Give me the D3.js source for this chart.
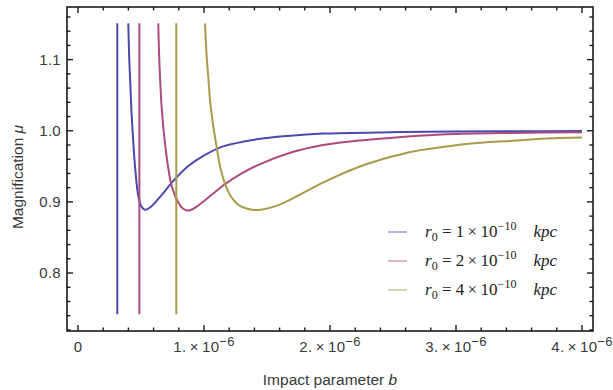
<!DOCTYPE html>
<html>
<head>
<meta charset="utf-8">
<script src="https://cdn.jsdelivr.net/npm/d3@7"></script>
<style>
  body { margin: 0; background: #fff; }
  svg { display: block; }
  .tick-label { font-family: 'Liberation Sans', Arial, sans-serif; font-size: 15px; fill: #3a3a3a; letter-spacing: 0.3px; }
  .axis-title { font-family: 'Liberation Sans', Arial, sans-serif; font-size: 15.5px; fill: #3a3a3a; }
  .legend-text { font-family: 'Liberation Serif', 'Times New Roman', serif; font-size: 17px; fill: #222; }
</style>
</head>
<body>
<div class="chart-box"></div>
<script>
// ===================== DATA ===================== //
// impact parameter b in units of 1e-6, magnification mu
const seriesNames = ['1', '2', '4'];
const poleB = [0.312, 0.487, 0.78];
const plotRangeMu = [0.742, 1.151];

const bBlue = [0.399, 0.406, 0.413, 0.425, 0.439, 0.455, 0.479, 0.505, 0.532, 0.57, 0.611, 0.68, 0.744, 0.873, 1.008, 1.151, 1.418, 1.683, 1.944, 2.476, 3.0, 3.5, 4.0];
const muBlue = [1.151, 1.105, 1.076, 1.025, 0.983, 0.945, 0.908, 0.893, 0.889, 0.892, 0.899, 0.913, 0.927, 0.95, 0.966, 0.978, 0.988, 0.993, 0.996, 0.998, 0.999, 0.9994, 0.9996];

const bMagenta = [0.637, 0.644, 0.651, 0.665, 0.69, 0.716, 0.744, 0.796, 0.83, 0.863, 0.9, 0.955, 1.061, 1.167, 1.3, 1.418, 1.683, 1.944, 2.212, 2.476, 2.926, 3.452, 4.0];
const muMagenta = [1.151, 1.105, 1.076, 1.03, 0.983, 0.948, 0.922, 0.899, 0.891, 0.888, 0.889, 0.895, 0.91, 0.925, 0.94, 0.951, 0.969, 0.98, 0.986, 0.99, 0.995, 0.997, 0.998];

const bOlive = [1.008, 1.021, 1.034, 1.048, 1.074, 1.095, 1.127, 1.167, 1.2, 1.233, 1.28, 1.33, 1.38, 1.45, 1.55, 1.683, 1.944, 2.212, 2.476, 2.659, 2.926, 3.19, 3.452, 3.72, 4.0];
const muOlive = [1.151, 1.105, 1.076, 1.043, 1.006, 0.983, 0.95, 0.925, 0.912, 0.903, 0.895, 0.891, 0.889, 0.889, 0.893, 0.903, 0.927, 0.948, 0.963, 0.971, 0.978, 0.983, 0.986, 0.989, 0.9906];

const colors = ['#4a4aae', '#ad4a80', '#aa9a4c'];

const xTicksMajor = [0, 1, 2, 3, 4];
const xTickLabels = ['0', '1.', '2.', '3.', '4.'];
const yTicksMajor = [0.8, 0.9, 1.0, 1.1];
const yTickLabels = ['0.8', '0.9', '1.0', '1.1'];

// ===================== LAYOUT ===================== //
const dimensions = { width: 613, height: 390 };
const frame = { left: 67, right: 593, top: 7, bottom: 331 };

const svg = d3
  .select('.chart-box')
  .append('svg')
  .attr('width', dimensions.width)
  .attr('height', dimensions.height);

const x = d3.scaleLinear().domain([-0.0873, 4.0873]).range([frame.left, frame.right]);
const y = d3.scaleLinear().domain([0.7185, 1.174]).range([frame.bottom, frame.top]);

svg
  .append('clipPath')
  .attr('id', 'plot-clip')
  .append('rect')
  .attr('x', frame.left)
  .attr('y', frame.top)
  .attr('width', frame.right - frame.left)
  .attr('height', frame.bottom - frame.top);

// ===================== CURVES ===================== //
const curveData = [
  bBlue.map((b, i) => [b, muBlue[i]]),
  bMagenta.map((b, i) => [b, muMagenta[i]]),
  bOlive.map((b, i) => [b, muOlive[i]]),
];

const line = d3
  .line()
  .x((d) => x(d[0]))
  .y((d) => y(d[1]))
  .curve(d3.curveCatmullRom.alpha(0.5));

const plot = svg.append('g').attr('clip-path', 'url(#plot-clip)');

curveData.forEach((data, i) => {
  // the steep crossing near the pole
  plot
    .append('line')
    .attr('x1', x(poleB[i]))
    .attr('x2', x(poleB[i]))
    .attr('y1', y(plotRangeMu[0]))
    .attr('y2', y(plotRangeMu[1]))
    .attr('stroke', colors[i])
    .attr('stroke-width', 2);

  plot
    .append('path')
    .datum(data)
    .attr('d', line)
    .attr('fill', 'none')
    .attr('stroke', colors[i])
    .attr('stroke-width', 2);
});

// ===================== FRAME + TICKS ===================== //
const frameColor = '#1a1a1a';
svg
  .append('rect')
  .attr('x', frame.left)
  .attr('y', frame.top)
  .attr('width', frame.right - frame.left)
  .attr('height', frame.bottom - frame.top)
  .attr('fill', 'none')
  .attr('stroke', frameColor)
  .attr('stroke-width', 1.6);

const xMinor = d3.range(0, 4.01, 0.2);
const yMinor = d3.range(0.72, 1.175, 0.02).filter((v) => v > 0.719);

const tickGroup = svg.append('g').attr('stroke', frameColor).attr('stroke-width', 1.4);

xMinor.forEach((v) => {
  const isMajor = Math.abs(v - Math.round(v)) < 1e-6;
  const len = isMajor ? 6 : 3.5;
  tickGroup
    .append('line')
    .attr('x1', x(v)).attr('x2', x(v))
    .attr('y1', frame.bottom).attr('y2', frame.bottom - len);
  tickGroup
    .append('line')
    .attr('x1', x(v)).attr('x2', x(v))
    .attr('y1', frame.top).attr('y2', frame.top + len);
});

yMinor.forEach((v) => {
  const isMajor = Math.abs(v * 10 - Math.round(v * 10)) < 1e-6;
  const len = isMajor ? 6 : 3.5;
  tickGroup
    .append('line')
    .attr('x1', frame.left).attr('x2', frame.left + len)
    .attr('y1', y(v)).attr('y2', y(v));
  tickGroup
    .append('line')
    .attr('x1', frame.right).attr('x2', frame.right - len)
    .attr('y1', y(v)).attr('y2', y(v));
});

// x tick labels, scientific style
xTicksMajor.forEach((v, i) => {
  const t = svg
    .append('text')
    .attr('class', 'tick-label')
    .attr('x', x(v))
    .attr('y', 352)
    .attr('text-anchor', 'middle');
  if (v === 0) {
    t.text(xTickLabels[i]);
    return;
  }
  t.append('tspan').text(xTickLabels[i] + '\u2009\u00d7\u200910');
  t.append('tspan').attr('dy', -6).attr('font-size', 13).text('\u22126');
});

yTicksMajor.forEach((v, i) => {
  svg
    .append('text')
    .attr('class', 'tick-label')
    .attr('x', 61)
    .attr('y', y(v) + 5)
    .attr('text-anchor', 'end')
    .text(yTickLabels[i]);
});

// axis titles
const xTitle = svg
  .append('text')
  .attr('class', 'axis-title')
  .attr('x', 330)
  .attr('y', 385)
  .attr('text-anchor', 'middle');
xTitle.append('tspan').text('Impact parameter ');
xTitle.append('tspan').attr('font-style', 'italic').text('b');

const yTitle = svg
  .append('text')
  .attr('class', 'axis-title')
  .attr('transform', `translate(23, ${y(0.935)}) rotate(-90)`)
  .attr('text-anchor', 'middle');
yTitle.append('tspan').text('Magnification ');
yTitle.append('tspan').attr('font-style', 'italic').text('\u03bc');

// ===================== LEGEND ===================== //
const legendRows = [232, 261, 290];
seriesNames.forEach((name, i) => {
  const ly = legendRows[i];
  svg
    .append('line')
    .attr('x1', 388).attr('x2', 407)
    .attr('y1', ly).attr('y2', ly)
    .attr('stroke', colors[i])
    .attr('stroke-opacity', 0.55)
    .attr('stroke-width', 1.5);

  const t = svg
    .append('text')
    .attr('class', 'legend-text')
    .attr('x', 425)
    .attr('y', ly + 5);
  t.append('tspan').attr('font-style', 'italic').text('r');
  t.append('tspan').attr('dy', 4).attr('font-size', 12).text('0');
  t.append('tspan').attr('dy', -4).text('\u2005=\u2005' + name + '\u2009\u00d7\u200910');
  t.append('tspan').attr('dy', -7).attr('font-size', 12).text('\u221210');
  t.append('tspan').attr('dy', 7).attr('font-style', 'italic').text('\u2003kpc');
});
</script>
</body>
</html>
